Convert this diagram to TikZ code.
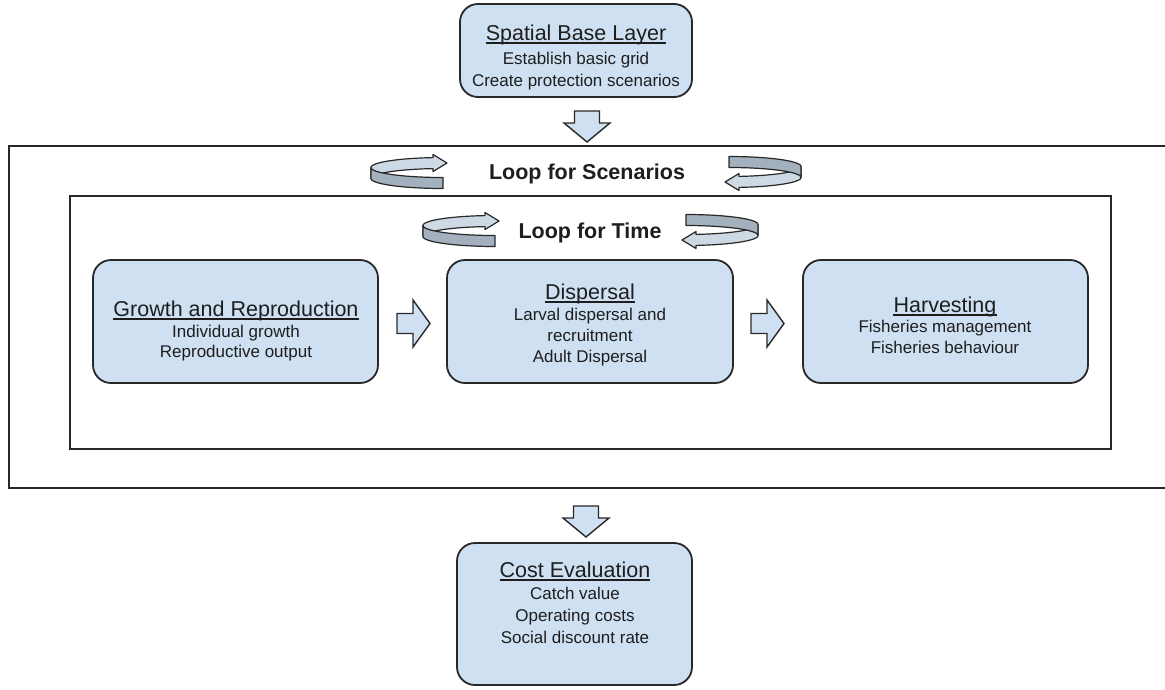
\documentclass[tikz,border=0pt]{standalone}
\usepackage{fontspec}
\setmainfont{Liberation Sans}
\definecolor{boxfill}{RGB}{207,224,243}
\definecolor{edge}{RGB}{40,40,40}
\definecolor{txt}{RGB}{30,30,30}
\definecolor{bandback}{RGB}{205,217,229}
\definecolor{bandfront}{RGB}{163,176,190}
\tikzset{
  box/.style={draw=edge, line width=1.8pt, fill=boxfill, rounded corners=18pt, inner sep=0pt},
  frame/.style={draw=edge, line width=1.6pt},
  ttl/.style={anchor=base, inner sep=0pt, text=txt, font=\fontsize{21.5}{24}\selectfont},
  sub/.style={anchor=base, inner sep=0pt, text=txt, font=\fontsize{17}{20}\selectfont},
  looplbl/.style={anchor=base, inner sep=0pt, text=txt, font=\bfseries\fontsize{21.5}{24}\selectfont},
  blockarrow/.style={draw=edge, line width=1.4pt, fill=boxfill, line join=miter},
  uline/.style={draw=txt, line width=1.2pt},
  band/.style={draw=edge, line width=1.2pt, line join=round},
  pics/downarrow/.style={code={
    \draw[blockarrow] (-12.5,0) -- (12.5,0) -- (12.5,12) -- (23,12) -- (0,31) -- (-23,12) -- (-12.5,12) -- cycle;}},
  pics/rightarrow/.style={code={
    \draw[blockarrow] (0,-10) -- (16,-10) -- (16,-23.5) -- (33,0) -- (16,23.5) -- (16,10) -- (0,10) -- cycle;}},
  pics/loopicon/.style={code={
    \filldraw[band, fill=bandback]
      plot[domain=180:262, samples=30] ({72*cos(\x)},{10*sin(\x)-5.5})
      -- (-10,-18.5) -- (4,-10) -- (-10,-1.5)
      -- plot[domain=262:180, samples=30] ({72*cos(\x)},{10*sin(\x)+5.5}) -- cycle;
    \filldraw[band, fill=bandfront]
      plot[domain=90:180, samples=30] ({72*cos(\x)},{10*sin(\x)-5.5})
      -- plot[domain=180:90, samples=30] ({72*cos(\x)},{10*sin(\x)+5.5}) -- cycle;}},
}
\begin{document}
\begin{tikzpicture}[x=1pt, y=-1pt]
\useasboundingbox[fill=white] (0,0) rectangle (1165,689);

% frames
\draw[frame] (1170,146) -- (9,146) -- (9,488) -- (1170,488);
\draw[frame] (70,196) rectangle (1111,449);

% boxes
\node[box, minimum width=232pt, minimum height=93pt] (sbl) at (576,50.5) {};
\node[box, minimum width=285pt, minimum height=123pt] (grow) at (235.5,321.5) {};
\node[box, minimum width=286pt, minimum height=123pt] (disp) at (590,321.5) {};
\node[box, minimum width=285pt, minimum height=123pt] (harv) at (945.5,321.5) {};
\node[box, minimum width=235pt, minimum height=142pt] (cost) at (574.5,614) {};

% texts
\node[ttl] (sblt) at (576,40) {Spatial Base Layer};
\node[sub] (sbl1) at (576,64) {Establish basic grid};
\node[sub] (sbl2) at (576,86) {Create protection scenarios};

\node[ttl] (growt) at (236,316) {Growth and Reproduction};
\node[sub] (grow1) at (236,337) {Individual growth};
\node[sub] (grow2) at (236,357) {Reproductive output};

\node[ttl] (dispt) at (590,299) {Dispersal};
\node[sub] (disp1) at (590,320) {Larval dispersal and};
\node[sub] (disp2) at (590,341) {recruitment};
\node[sub] (disp3) at (590,362) {Adult Dispersal};

\node[ttl] (harvt) at (945,312) {Harvesting};
\node[sub] (harv1) at (945,332) {Fisheries management};
\node[sub] (harv2) at (945,353) {Fisheries behaviour};

\node[ttl] (costt) at (575,577) {Cost Evaluation};
\node[sub] (cost1) at (575,599) {Catch value};
\node[sub] (cost2) at (575,621) {Operating costs};
\node[sub] (cost3) at (575,643) {Social discount rate};

\foreach \n in {sblt,growt,dispt,harvt,costt}
  \draw[uline] ([yshift=-3pt]\n.base west) -- ([yshift=-3pt]\n.base east);

% loop labels
\node[looplbl] (lscen) at (587,179) {Loop for Scenarios};
\node[looplbl] (ltime) at (590,238) {Loop for Time};

% loop icons
\pic at (443,173) {loopicon};
\pic[rotate=180] at (729,172) {loopicon};
\pic at (495,231) {loopicon};
\pic[rotate=180] at (686,230) {loopicon};

% block arrows
\pic at (587,111) {downarrow};
\pic at (586,506) {downarrow};
\pic at (397,323.5) {rightarrow};
\pic at (751,323.5) {rightarrow};
\end{tikzpicture}
\end{document}
